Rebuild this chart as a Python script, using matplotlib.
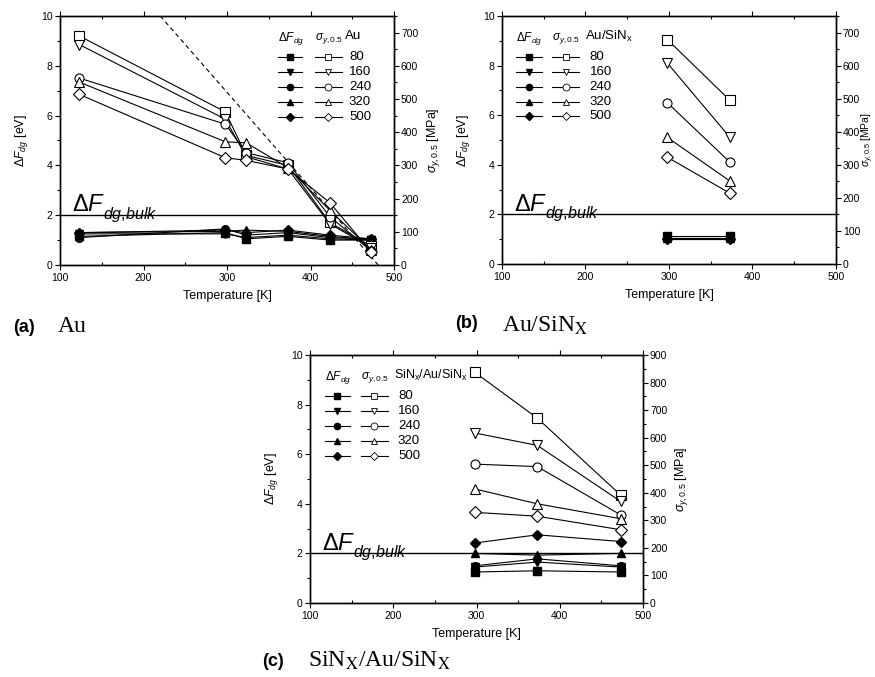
import matplotlib
matplotlib.use("Agg")
import matplotlib.pyplot as plt
from matplotlib.ticker import MultipleLocator

plt.rcParams['font.family'] = ['Liberation Sans', 'DejaVu Sans']
plt.rcParams['mathtext.fontset'] = 'custom'
plt.rcParams['mathtext.rm'] = 'Liberation Sans'
plt.rcParams['mathtext.it'] = 'Liberation Sans:italic'

# ---- data ---------------------------------------------------------------
thickness = ['80', '160', '240', '320', '500']
filled_markers = ['s', 'v', 'o', '^', 'D']

# (a) Au
T_a = [123, 298, 323, 373, 423, 473]
dF_a = [
    [1.15, 1.30, 1.05, 1.15, 1.00, 1.00],
    [1.25, 1.25, 1.10, 1.20, 1.05, 1.00],
    [1.10, 1.45, 1.20, 1.30, 1.10, 1.05],
    [1.30, 1.35, 1.40, 1.35, 1.15, 1.00],
    [1.30, 1.40, 1.30, 1.40, 1.20, 1.05],
]
sig_a = [
    [690, 461, 330, 300, 128, 56],
    [664, 439, 326, 289, 124, 52],
    [563, 424, 338, 308, 146, 41],
    [551, 371, 368, 293, 165, 45],
    [514, 323, 315, 289, 188, 38],
]
dashed_T_a = [220, 481]
dashed_sig_a = [750, 0]

# (b) Au/SiNx
T_b = [298, 373]
dF_b = [
    [1.15, 1.15],
    [1.00, 1.00],
    [1.05, 1.05],
    [1.05, 1.05],
    [1.00, 1.00],
]
sig_b = [
    [679, 495],
    [608, 383],
    [488, 308],
    [383, 251],
    [323, 214],
]

# (c) SiNx/Au/SiNx
T_c = [298, 373, 473]
dF_c = [
    [1.25, 1.30, 1.25],
    [1.45, 1.65, 1.45],
    [1.50, 1.78, 1.50],
    [2.00, 1.93, 2.00],
    [2.42, 2.75, 2.48],
]
sig_c = [
    [837, 671, 392],
    [617, 572, 369],
    [504, 495, 320],
    [414, 360, 306],
    [329, 315, 266],
]

dF_bulk = 2.0

# ---- figure -------------------------------------------------------------
fig = plt.figure(figsize=(8.75, 6.77), dpi=100)

FS = 8.5      # axis titles
TFS = 7.5     # tick labels
LW = 0.8
SIG_LABEL = r'$\sigma_{y,0.5}$ [MPa]'


def style_axes(ax, ax2, sig_max, rpad=3, right_label=True):
    ax.set_xlim(100, 500)
    ax.set_ylim(0, 10)
    ax2.set_ylim(0, sig_max)
    ax.xaxis.set_major_locator(MultipleLocator(100))
    ax.xaxis.set_minor_locator(MultipleLocator(50))
    ax.yaxis.set_major_locator(MultipleLocator(2))
    ax.yaxis.set_minor_locator(MultipleLocator(1))
    ax2.yaxis.set_major_locator(MultipleLocator(100))
    ax2.yaxis.set_minor_locator(MultipleLocator(50))
    for a in (ax, ax2):
        for s in a.spines.values():
            s.set_linewidth(1.0)
    ax.tick_params(axis='x', which='major', direction='out', length=3.5,
                   width=0.8, labelsize=TFS, top=True, pad=2.5)
    ax.tick_params(axis='x', which='minor', direction='in', length=2.5,
                   width=0.8, top=True)
    ax.tick_params(axis='y', which='major', direction='out', length=3.5,
                   width=0.8, labelsize=TFS, right=False, pad=2)
    ax.tick_params(axis='y', which='minor', direction='out', length=2.5,
                   width=0.8, right=False)
    ax2.tick_params(axis='y', which='major', direction='out', length=3.5,
                    width=0.8, labelsize=TFS, pad=1.5)
    ax2.tick_params(axis='y', which='minor', direction='out', length=2.5,
                    width=0.8)
    ax.set_xlabel('Temperature [K]', fontsize=FS + 0.5, labelpad=5)
    ax.set_ylabel(r'$\Delta F_{dg}$ [eV]', fontsize=FS + 0.5, labelpad=8)
    if right_label:
        ax2.set_ylabel(SIG_LABEL, fontsize=FS + 0.5, labelpad=rpad)
    ax.axhline(dF_bulk, color='black', lw=1.0, zorder=1)
    ax.text(0.035, 0.215, r'$\Delta F$', transform=ax.transAxes,
            fontsize=17, ha='left', va='baseline')
    ax.text(0.13, 0.185, r'$dg{,}bulk$', transform=ax.transAxes,
            fontsize=11.5, ha='left', va='baseline')


def draw_series(ax, ax2, T, dF, sig):
    for i, m in enumerate(filled_markers):
        ax.plot(T, dF[i], color='black', lw=LW, marker=m,
                ms=5.5 if m != 'D' else 5,
                mfc='black', mec='black', zorder=3, clip_on=False)
    for i, m in enumerate(filled_markers):
        ax2.plot(T, sig[i], color='black', lw=LW, marker=m,
                 ms=6.5 if m != 'D' else 6, mfc='white', mec='black',
                 mew=0.8, zorder=4, clip_on=False)


def draw_key(ax, x1, x2, xnum, ytop, dy, title, title_fs=FS + 1):
    ht = ytop + 0.075
    ax.text(x1[0], ht, r'$\Delta F_{dg}$', transform=ax.transAxes,
            fontsize=FS, ha='left', va='center')
    ax.text(x2[0], ht, r'$\sigma_{y,0.5}$', transform=ax.transAxes,
            fontsize=FS, ha='left', va='center')
    ax.text(xnum - 0.012, ht + 0.008, title, transform=ax.transAxes,
            fontsize=title_fs, ha='left', va='center')
    for i, m in enumerate(filled_markers):
        y = ytop - i * dy
        ax.plot(x1, [y, y], transform=ax.transAxes, color='black', lw=LW,
                clip_on=False)
        ax.plot([sum(x1) / 2], [y], transform=ax.transAxes, marker=m,
                ms=4.5 if m != 'D' else 4, color='black', clip_on=False)
        ax.plot(x2, [y, y], transform=ax.transAxes, color='black', lw=LW,
                clip_on=False)
        ax.plot([sum(x2) / 2], [y], transform=ax.transAxes, marker=m,
                ms=5 if m != 'D' else 4.5, mfc='white', mec='black',
                mew=0.6, color='black', clip_on=False)
        ax.text(xnum, y, thickness[i], transform=ax.transAxes,
                fontsize=9.5, ha='left', va='center')


# (a)
axA = fig.add_axes([0.0686, 0.6086, 0.3817, 0.3678])
axA2 = axA.twinx()
style_axes(axA, axA2, 750, rpad=5)
axA2.plot(dashed_T_a, dashed_sig_a, color='black', lw=0.8, ls=(0, (4, 3)),
          zorder=2)
draw_series(axA, axA2, T_a, dF_a, sig_a)
draw_key(axA, [0.653, 0.725], [0.763, 0.844], 0.865, 0.835, 0.06, 'Au')

# (b)
axB = fig.add_axes([0.5737, 0.6100, 0.3817, 0.3663])
axB2 = axB.twinx()
style_axes(axB, axB2, 750, right_label=False)
fig.text(860 / 875, 0.6100 + 0.3663 / 2, SIG_LABEL, fontsize=FS - 1,
         rotation=90, ha='left', va='center')
draw_series(axB, axB2, T_b, dF_b, sig_b)
draw_key(axB, [0.042, 0.12], [0.150, 0.231], 0.262, 0.835, 0.06,
         r'Au/SiN$_{\mathrm{x}}$')

# (c)
axC = fig.add_axes([0.3543, 0.1093, 0.3806, 0.3663])
axC2 = axC.twinx()
style_axes(axC, axC2, 900, rpad=4)
draw_series(axC, axC2, T_c, dF_c, sig_c)
draw_key(axC, [0.045, 0.12], [0.153, 0.234], 0.264, 0.835, 0.0605,
         r'SiN$_{\mathrm{x}}$/Au/SiN$_{\mathrm{x}}$', title_fs=FS + 0.5)

# panel captions
serif = ['Liberation Serif', 'DejaVu Serif']
fig.text(13 / 875, 1 - 327 / 677, '(a)', fontsize=13, fontweight='bold',
         va='center')
fig.text(58 / 875, 1 - 327 / 677, 'Au', fontsize=17, family=serif,
         va='center')
fig.text(455 / 875, 1 - 324 / 677, '(b)', fontsize=13, fontweight='bold',
         va='center')
fig.text(502 / 875, 1 - 326 / 677, r'Au/SiN$_{\mathrm{X}}$', fontsize=17,
         family=serif, va='center', math_fontfamily='stix')
fig.text(262 / 875, 1 - 661 / 677, '(c)', fontsize=13, fontweight='bold',
         va='center')
fig.text(308 / 875, 1 - 661 / 677,
         r'SiN$_{\mathrm{X}}$/Au/SiN$_{\mathrm{X}}$', fontsize=17,
         family=serif, va='center', math_fontfamily='stix')

fig.savefig('out.png', dpi=100, facecolor='white')
